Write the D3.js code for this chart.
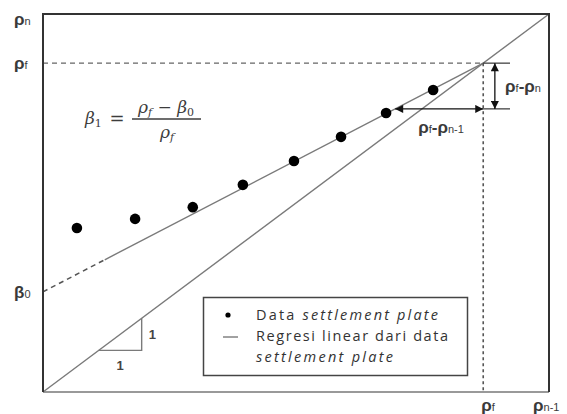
<!DOCTYPE html>
<html>
<head>
<meta charset="utf-8">
<script src="https://cdn.jsdelivr.net/npm/d3@7"></script>
<style>
  html, body { margin: 0; padding: 0; background: #fff; }
  svg { display: block; }
</style>
</head>
<body>
<svg id="chart" width="567" height="414"></svg>
<script>
// Settlement plate readings (rho_n-1 on x, rho_n on y), normalised to the plot box
const settlementX = [0.067, 0.182, 0.296, 0.395, 0.496, 0.589, 0.678, 0.771];
const settlementY = [0.434, 0.458, 0.489, 0.548, 0.611, 0.675, 0.738, 0.799];

// Final settlement and regression intercept
const rhoF = 0.87;
const beta0 = 0.265;
// End of the extrapolated (dashed) part of the regression line
const dashedEnd = 0.122;
// Level of the rho_n-1 arrow and the right end of the tick lines
const arrowLevel = 0.749;
const vArrowX = 0.893;
const tickEnd = 0.923;
// Unit slope triangle
const triX = [0.11, 0.195];

const legendLabels = [
  ["Data ", "settlement plate"],
  ["Regresi linear dari data", ""],
  ["", "settlement plate"]
];
const legendWidths = [182, 192, 137];

const svg = d3.select("#chart");
const x = d3.scaleLinear().domain([0, 1]).range([43, 549]);
const y = d3.scaleLinear().domain([0, 1]).range([392, 14]);

const slope = (rhoF - beta0) / rhoF;
const reg = v => beta0 + slope * v;

const grey = "#7a7a7a";
const dark = "#333";

// defs: arrowhead
const defs = svg.append("defs");
defs.append("marker")
  .attr("id", "ah").attr("viewBox", "0 0 10 10")
  .attr("refX", 10).attr("refY", 5)
  .attr("markerWidth", 9).attr("markerHeight", 8)
  .attr("markerUnits", "userSpaceOnUse")
  .attr("orient", "auto-start-reverse")
  .append("path").attr("d", "M0,0 L10,5 L0,10 Z").attr("fill", "#111");

const line = d3.line().x(d => x(d[0])).y(d => y(d[1]));

// 1:1 line
svg.append("path").attr("d", line([[0, 0], [1, 1]]))
  .attr("fill", "none").attr("stroke", grey).attr("stroke-width", 1.4);

// regression line: dashed extrapolation then solid
svg.append("path").attr("d", line([[0, beta0], [dashedEnd, reg(dashedEnd)]]))
  .attr("fill", "none").attr("stroke", "#555").attr("stroke-width", 1.5)
  .attr("stroke-dasharray", "5,4");
svg.append("path").attr("d", line([[dashedEnd, reg(dashedEnd)], [rhoF, reg(rhoF)]]))
  .attr("fill", "none").attr("stroke", grey).attr("stroke-width", 1.4);

// rho_f guide lines
svg.append("path").attr("d", line([[0, rhoF], [rhoF, rhoF]]))
  .attr("fill", "none").attr("stroke", "#666").attr("stroke-width", 1.4)
  .attr("stroke-dasharray", "5,4");
svg.append("path").attr("d", line([[rhoF, rhoF], [rhoF, 0]]))
  .attr("fill", "none").attr("stroke", "#555").attr("stroke-width", 1.6)
  .attr("stroke-dasharray", "3,3");

// tick lines for the vertical arrow
svg.append("path").attr("d", line([[rhoF, rhoF], [tickEnd, rhoF]]))
  .attr("fill", "none").attr("stroke", "#333").attr("stroke-width", 1.2);
svg.append("path").attr("d", line([[rhoF, arrowLevel], [tickEnd, arrowLevel]]))
  .attr("fill", "none").attr("stroke", "#333").attr("stroke-width", 1.2);

// vertical double arrow rho_f - rho_n
svg.append("path").attr("d", line([[vArrowX, rhoF], [vArrowX, arrowLevel]]))
  .attr("fill", "none").attr("stroke", "#111").attr("stroke-width", 1.3)
  .attr("marker-start", "url(#ah)").attr("marker-end", "url(#ah)");

// horizontal double arrow rho_f - rho_n-1
const xa = (arrowLevel - beta0) / slope;
svg.append("path").attr("d", line([[xa, arrowLevel], [rhoF, arrowLevel]]))
  .attr("fill", "none").attr("stroke", "#111").attr("stroke-width", 1.3)
  .attr("marker-start", "url(#ah)").attr("marker-end", "url(#ah)");

// unit slope triangle
svg.append("path").attr("d", line([[triX[0], triX[0]], [triX[1], triX[0]], [triX[1], triX[1]]]))
  .attr("fill", "none").attr("stroke", grey).attr("stroke-width", 1.4);
svg.append("text").attr("x", x(triX[1]) + 7).attr("y", y((triX[0] + triX[1]) / 2) + 5)
  .attr("font-family", "Liberation Sans, Arial, sans-serif").attr("font-size", 13)
  .attr("font-weight", "bold").attr("fill", "#444").text("1");
svg.append("text").attr("x", x((triX[0] + triX[1]) / 2)).attr("y", y(triX[0]) + 20)
  .attr("text-anchor", "middle")
  .attr("font-family", "Liberation Sans, Arial, sans-serif").attr("font-size", 13)
  .attr("font-weight", "bold").attr("fill", "#444").text("1");

// frame
svg.append("path").attr("d", line([[1, 0], [0, 0]]))
  .attr("fill", "none").attr("stroke", "#777").attr("stroke-width", 1.6);
svg.append("path").attr("d", line([[0, 0], [0, 1], [1, 1], [1, 0]]))
  .attr("fill", "none").attr("stroke", dark).attr("stroke-width", 2);

// settlement plate points
svg.append("g").selectAll("circle")
  .data(d3.zip(settlementX, settlementY))
  .join("circle")
  .attr("cx", d => x(d[0])).attr("cy", d => y(d[1]))
  .attr("r", 5.3).attr("fill", "#000");

// rho labels: alternating [main, subscript] pieces
const labelFont = "Liberation Sans, Arial, sans-serif";
function rhoLabel(px, py, parts) {
  const t = svg.append("text").attr("x", px).attr("y", py)
    .attr("font-family", labelFont).attr("fill", "#3a3a3a");
  parts.forEach((p, i) => {
    const main = i % 2 === 0;
    t.append("tspan").attr("font-size", main ? 17 : 11)
      .attr("font-weight", main ? "bold" : "normal").text(p);
  });
  return t;
}
rhoLabel(14, 25, ["ρ", "n"]);
rhoLabel(14, y(rhoF) + 6, ["ρ", "f"]);
rhoLabel(14, y(beta0) + 6, ["β", "0"]);
rhoLabel(x(rhoF) - 2, 411, ["ρ", "f"]);
rhoLabel(533, 411, ["ρ", "n-1"]);
rhoLabel(x(tickEnd) - 5, y((rhoF + arrowLevel) / 2) + 6, ["ρ", "f", "-ρ", "n"]);
rhoLabel(x(xa) + 23, y(arrowLevel) + 24, ["ρ", "f", "-ρ", "n-1"]);

// formula beta_1 = (rho_f - beta_0) / rho_f
const mathFont = "DejaVu Serif, serif";
const ink = "#3c3c3c";
const f = svg.append("g").attr("fill", ink).attr("font-family", mathFont)
  .attr("font-style", "italic");
const fl = f.append("text").attr("x", 85).attr("y", 124).attr("font-size", 17);
fl.append("tspan").text("β");
fl.append("tspan").attr("font-size", 11).attr("dy", 3).attr("font-style", "normal").text("1");
f.append("text").attr("x", 117).attr("y", 125).attr("font-size", 18)
  .attr("text-anchor", "middle").attr("font-style", "normal").text("=");
const num = f.append("text").attr("x", 166).attr("y", 113).attr("font-size", 17)
  .attr("text-anchor", "middle");
num.append("tspan").text("ρ");
num.append("tspan").attr("font-size", 11).attr("dy", 3).text("f");
num.append("tspan").attr("dy", -3).attr("font-style", "normal").text(" − ");
num.append("tspan").text("β");
num.append("tspan").attr("font-size", 11).attr("dy", 3).attr("font-style", "normal").text("0");
f.append("line").attr("x1", 132).attr("x2", 201).attr("y1", 119).attr("y2", 119)
  .attr("stroke", ink).attr("stroke-width", 1.3);
const den = f.append("text").attr("x", 167).attr("y", 138).attr("font-size", 17)
  .attr("text-anchor", "middle");
den.append("tspan").text("ρ");
den.append("tspan").attr("font-size", 11).attr("dy", 3).text("f");

// legend
const lg = svg.append("g");
lg.append("rect").attr("x", 203.5).attr("y", 297.5).attr("width", 264).attr("height", 78)
  .attr("fill", "#fff").attr("stroke", "#444").attr("stroke-width", 1.5);
lg.append("circle").attr("cx", 228).attr("cy", 315).attr("r", 2.6).attr("fill", "#000");
lg.append("line").attr("x1", 223).attr("x2", 238).attr("y1", 337).attr("y2", 337)
  .attr("stroke", "#444").attr("stroke-width", 1);
const baselines = [320, 341, 362];
legendLabels.forEach((parts, i) => {
  const t = lg.append("text").attr("x", 256).attr("y", baselines[i])
    .attr("font-family", "Open Sans, sans-serif").attr("font-size", 14.5).attr("fill", "#333")
    .attr("textLength", legendWidths[i]).attr("lengthAdjust", "spacing");
  if (parts[0]) t.append("tspan").text(parts[0]);
  if (parts[1]) t.append("tspan").attr("font-style", "italic").text(parts[1]);
});
</script>
</body>
</html>
